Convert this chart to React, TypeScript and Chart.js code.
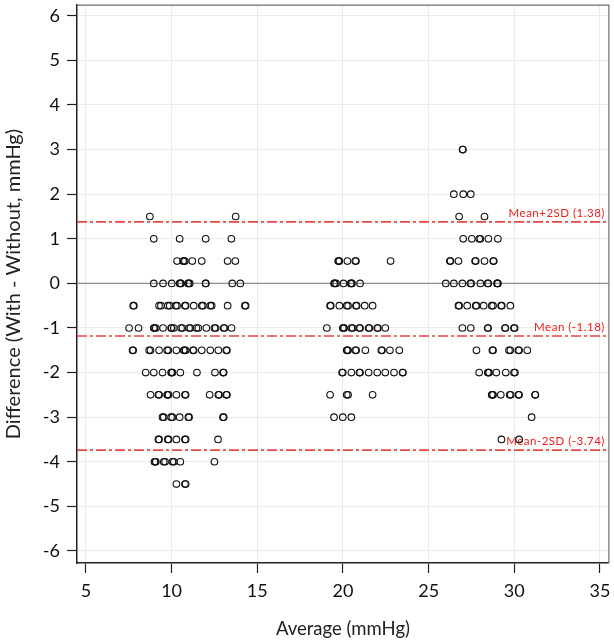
import React, { useEffect, useRef } from "react";
import { Chart, registerables } from "chart.js";

Chart.register(...registerables);

// ---- Data ----
const xTickValues = [5, 10, 15, 20, 25, 30, 35];
const yTickValues = [-6, -5, -4, -3, -2, -1, 0, 1, 2, 3, 4, 5, 6];

// Difference levels (With - Without, mmHg)
const diffLevels = [3, 2, 1.5, 1, 0.5, 0, -0.5, -1, -1.5, -2, -2.5, -3, -3.5, -4, -4.5];

// Averages (mmHg) of the points found at each difference level
const avgAt3 = [26.98, 27.0];
const avgAt2 = [26.47, 27.02, 27.46];
const avgAt1p5 = [8.73, 13.74, 26.78, 28.26];
const avgAt1 = [8.96, 10.47, 11.99, 13.49, 27.02, 27.52, 27.95, 28.02, 28.49, 29.04];
const avgAt0p5 = [
  10.32, 10.67, 10.72, 10.78, 11.21, 11.76, 13.27, 13.72,
  19.72, 19.76, 19.79, 20.26, 20.72, 20.76, 22.78,
  26.24, 26.28, 26.74, 27.71, 27.75, 28.26, 28.77, 28.8,
];
const avgAt0 = [
  8.96, 9.5, 10.01, 10.47, 10.51, 10.55, 10.96, 11.0, 11.06, 11.99, 11.99, 13.54, 14.01,
  19.48, 19.52, 19.6, 20.03, 20.45, 20.49, 20.53, 21.0,
  26.0, 26.47, 26.97, 27.44, 27.48, 28.02, 28.45, 28.48, 28.99, 29.02, 29.04,
];
const avgAtM0p5 = [
  7.76, 7.8, 9.27, 9.38, 9.78, 9.89, 10.24, 10.32, 10.78, 10.82, 11.29, 11.76, 11.83, 12.26, 12.34, 13.27, 14.28, 14.32,
  19.25, 19.29, 19.79, 20.22, 20.3, 20.76, 20.8, 21.27, 21.73,
  26.74, 26.78, 27.25, 27.75, 27.79, 28.21, 28.68, 28.76, 29.23, 29.27, 29.77,
];
const avgAtM1 = [
  7.52, 8.07, 8.96, 9.0, 9.08, 9.5, 9.97, 10.01, 10.13, 10.55, 10.63, 11.02, 11.1, 11.45, 11.56, 12.03, 12.5, 12.57, 13.04, 13.08, 13.5,
  19.06, 19.99, 20.03, 20.07, 20.49, 20.57, 20.96, 21.0, 21.5, 21.54, 22.0, 22.04, 22.47,
  26.97, 27.46, 28.45, 28.47, 29.46, 29.48, 29.98, 30.02,
];
const avgAtM1p5 = [
  7.72, 7.76, 8.69, 8.77, 9.27, 9.74, 9.81, 10.28, 10.71, 10.75, 10.82, 11.25, 11.29, 11.76, 12.26, 12.73, 13.19, 13.23,
  20.22, 20.26, 20.3, 20.73, 20.77, 21.31, 22.24, 22.28, 22.74, 23.29,
  27.79, 28.72, 28.76, 29.69, 29.77, 30.24, 30.28, 30.76,
];
const avgAtM2 = [
  8.49, 8.96, 9.47, 9.97, 10.01, 10.05, 10.51, 11.48, 12.53, 13.0, 13.04,
  19.95, 19.99, 20.49, 20.96, 21.0, 21.5, 22.0, 22.47, 22.98, 23.48, 23.5,
  27.95, 28.45, 28.49, 28.53, 28.95, 29.5, 29.98, 30.04,
];
const avgAtM2p5 = [
  8.77, 9.23, 9.27, 9.74, 9.78, 9.82, 10.28, 10.78, 10.82, 12.22, 12.73, 12.77, 13.19, 13.23,
  19.25, 20.22, 20.3, 21.73,
  28.68, 28.72, 28.76, 29.21, 29.73, 29.79, 30.24, 30.28, 31.21, 31.23,
];
const avgAtM3 = [9.47, 9.54, 9.97, 10.05, 10.47, 10.98, 11.02, 13.0, 13.04, 19.48, 19.99, 20.49, 31.01];
const avgAtM3p5 = [9.23, 9.27, 9.78, 9.82, 10.28, 10.78, 10.82, 12.71, 29.25, 30.28];
const avgAtM4 = [9.0, 9.04, 9.08, 9.54, 9.62, 10.05, 10.13, 10.51, 12.5];
const avgAtM4p5 = [10.28, 10.78, 10.82];

const averagesByLevel = [
  avgAt3, avgAt2, avgAt1p5, avgAt1, avgAt0p5, avgAt0, avgAtM0p5, avgAtM1,
  avgAtM1p5, avgAtM2, avgAtM2p5, avgAtM3, avgAtM3p5, avgAtM4, avgAtM4p5,
];

const zeroLine = 0;
const limitValues = [1.38, -1.18, -3.74];
const limitLabels = ["Mean+2SD (1.38)", "Mean (-1.18)", "Mean-2SD (-3.74)"];

const xTitle = "Average (mmHg)";
const yTitle = "Difference (With - Without, mmHg)";

const FONT = "Lato, 'Open Sans', sans-serif";

const refPlugin = {
  id: "refLines",
  beforeDatasetsDraw(chart: any) {
    const { ctx, chartArea: a, scales } = chart;
    const y = scales.y;
    ctx.save();
    const y0 = y.getPixelForValue(zeroLine);
    ctx.strokeStyle = "#8c8c8c";
    ctx.lineWidth = 1.2;
    ctx.beginPath();
    ctx.moveTo(a.left, y0);
    ctx.lineTo(a.right, y0);
    ctx.stroke();
    ctx.setLineDash([10, 3, 3, 3]);
    ctx.strokeStyle = "rgba(226,50,50,0.9)";
    ctx.lineWidth = 1.6;
    limitValues.forEach((v) => {
      const py = y.getPixelForValue(v);
      ctx.beginPath();
      ctx.moveTo(a.left, py);
      ctx.lineTo(a.right, py);
      ctx.stroke();
    });
    ctx.setLineDash([]);
    ctx.fillStyle = "#e8201c";
    ctx.font = "11.5px " + FONT;
    ctx.textAlign = "right";
    ctx.textBaseline = "middle";
    (ctx as any).letterSpacing = "0.5px";
    limitLabels.forEach((t, i) => {
      ctx.fillText(t, a.right - 4, y.getPixelForValue(limitValues[i]) - 8.5);
    });
    ctx.restore();
  },
  afterDraw(chart: any) {
    const { ctx, chartArea: a } = chart;
    ctx.save();
    ctx.strokeStyle = "#6e6e6e";
    ctx.lineWidth = 1.2;
    ctx.beginPath();
    ctx.moveTo(a.left, a.top);
    ctx.lineTo(a.right, a.top);
    ctx.lineTo(a.right, a.bottom);
    ctx.stroke();
    ctx.restore();
  },
};

export default function App() {
  const canvasRef = useRef<HTMLCanvasElement | null>(null);

  useEffect(() => {
    if (!canvasRef.current) return;
    const points: { x: number; y: number }[] = [];
    diffLevels.forEach((d, i) => {
      averagesByLevel[i].forEach((avg) => points.push({ x: avg, y: d }));
    });

    const chart = new Chart(canvasRef.current, {
      type: "scatter",
      data: {
        datasets: [
          {
            label: "Difference",
            data: points,
            pointStyle: "circle",
            pointRadius: 3.3,
            pointBorderWidth: 1.1,
            pointBorderColor: "#111",
            pointBackgroundColor: "rgba(0,0,0,0)",
            showLine: false,
          },
        ],
      },
      options: {
        responsive: false,
        animation: false,
        events: [],
        layout: { padding: { top: 5, right: 4, left: 0, bottom: 0 } },
        plugins: {
          legend: { display: false },
          tooltip: { enabled: false },
          title: { display: false },
        },
        scales: {
          x: {
            type: "linear",
            min: 4.48,
            max: 35.52,
            afterBuildTicks: (s: any) => {
              s.ticks = xTickValues.map((v) => ({ value: v }));
            },
            afterFit: (s: any) => {
              s.height = 77;
              s.paddingLeft = 0;
              s.paddingRight = 0;
            },
            grid: {
              color: "#ebebeb",
              lineWidth: 1,
              tickColor: "#222",
              tickLength: 10,
              tickWidth: 1.2,
            },
            border: { display: true, color: "#222", width: 1.5 },
            ticks: {
              color: "#111",
              padding: 7,
              font: { family: FONT, size: 18 },
              maxRotation: 0,
            },
            title: {
              display: true,
              text: xTitle,
              color: "#222",
              font: { family: FONT, size: 18.5 },
              padding: { top: 0, bottom: 0 },
            },
          },
          y: {
            type: "linear",
            min: -6.27,
            max: 6.24,
            afterBuildTicks: (s: any) => {
              s.ticks = yTickValues.map((v) => ({ value: v }));
            },
            afterFit: (s: any) => {
              s.width = 77;
              s.paddingTop = 0;
              s.paddingBottom = 0;
            },
            grid: {
              color: "#ebebeb",
              lineWidth: 1,
              tickColor: "#222",
              tickLength: 10,
              tickWidth: 1.2,
            },
            border: { display: true, color: "#222", width: 1.5 },
            ticks: {
              color: "#111",
              padding: 7,
              font: { family: FONT, size: 18 },
            },
            title: {
              display: true,
              text: yTitle,
              color: "#222",
              font: { family: FONT, size: 20 },
              padding: { top: 2, bottom: 0 },
            },
          },
        },
      },
      plugins: [refPlugin],
    });
    return () => chart.destroy();
  }, []);

  return (
    <div style={{ position: "absolute", left: 0, top: 0, width: 614, height: 640, background: "#fff" }}>
      <canvas ref={canvasRef} width={614} height={640} style={{ display: "block" }} />
    </div>
  );
}
